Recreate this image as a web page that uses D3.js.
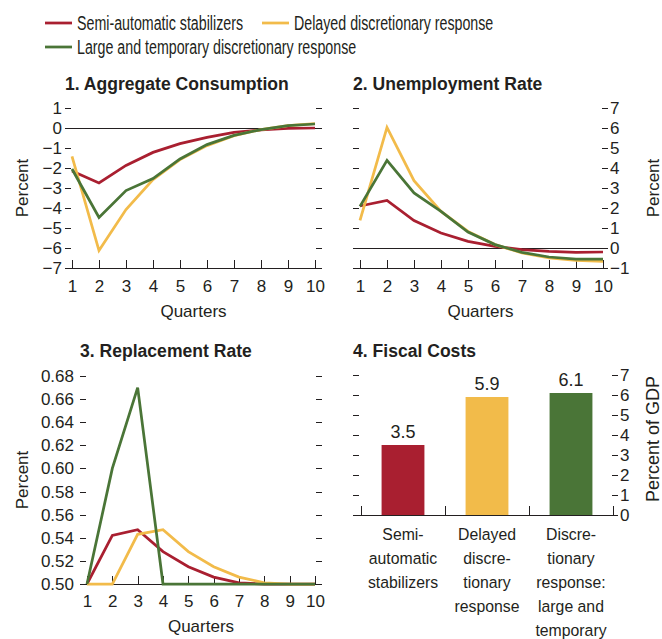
<!DOCTYPE html>
<html>
<head>
<meta charset="utf-8">
<script src="https://cdn.jsdelivr.net/npm/d3@7"></script>
<style>
body { margin: 0; background: #fff; }
svg text { font-family: "Liberation Sans", Arial, sans-serif; fill: #231f20; }
</style>
</head>
<body>
<svg id="chart" width="662" height="639"></svg>
<script>
//////////
// DATA //
//////////
var quarters = [1, 2, 3, 4, 5, 6, 7, 8, 9, 10];
var seriesNames = ["Semi-automatic stabilizers", "Delayed discretionary response", "Large and temporary discretionary response"];

var consSemi    = [-2.15, -2.75, -1.87, -1.22, -0.78, -0.47, -0.22, -0.1, -0.02, 0.0];
var consDelayed = [-1.42, -6.13, -4.08, -2.58, -1.58, -0.88, -0.38, -0.08, 0.12, 0.22];
var consLarge   = [-2.05, -4.47, -3.13, -2.53, -1.55, -0.83, -0.37, -0.08, 0.12, 0.2];

var unempSemi    = [2.1, 2.38, 1.37, 0.75, 0.33, 0.08, -0.08, -0.17, -0.22, -0.2];
var unempDelayed = [1.38, 6.03, 3.37, 1.83, 0.83, 0.17, -0.25, -0.5, -0.62, -0.67];
var unempLarge   = [2.08, 4.38, 2.75, 1.83, 0.8, 0.17, -0.22, -0.45, -0.55, -0.55];

var replSemi    = [0.5, 0.542, 0.547, 0.528, 0.515, 0.506, 0.501, 0.5, 0.5, 0.5];
var replDelayed = [0.5, 0.5, 0.543, 0.547, 0.528, 0.515, 0.506, 0.501, 0.5, 0.5];
var replLarge   = [0.5, 0.6, 0.67, 0.5, 0.5, 0.5, 0.5, 0.5, 0.5, 0.5];

var costCategories = [
	["Semi-", "automatic", "stabilizers"],
	["Delayed", "discre-", "tionary", "response"],
	["Discre-", "tionary", "response:", "large and", "temporary"]
];
var costValues = [3.5, 5.9, 6.1];

var consTicks = [1, 0, -1, -2, -3, -4, -5, -6, -7];
var unempTicks = [7, 6, 5, 4, 3, 2, 1, 0, -1];
var replTicks = [0.50, 0.52, 0.54, 0.56, 0.58, 0.60, 0.62, 0.64, 0.66, 0.68];
var costTicks = [0, 1, 2, 3, 4, 5, 6, 7];

/////////////////
// "CONSTANTS" //
/////////////////
var COLORS = ["#a91f30", "#f2bb4a", "#4a7537"];
var INK = "#231f20";
var LINE_WIDTH = 2.75;
var TICK_LEN = 6;
var X_TICK_LEN = 8;
var FONT_TICK = 17;
var FONT_TITLE = 18.5;

var svg = d3.select("#chart");

///////////////
// FUNCTIONS //
///////////////
// narrow text: the source font is condensed, ours is not
var squeezed = function(parent, x, y, k, extra) {
	return parent.append("text")
		.attr("transform", "translate(" + x + "," + y + ")" + (extra || "") + " scale(" + k + ",1)");
};

var styleAxis = function(g) {
	g.attr("font-family", null).attr("font-size", null);
	g.select(".domain").remove();
	g.selectAll(".tick line").attr("stroke", INK).attr("stroke-width", 1).attr("shape-rendering", "crispEdges");
	g.selectAll(".tick text").style("font-size", FONT_TICK + "px");
};

var hLine = function(g, x1, x2, y) {
	g.append("line")
		.attr("x1", x1).attr("x2", x2)
		.attr("y1", y).attr("y2", y)
		.attr("stroke", INK).attr("stroke-width", 1)
		.attr("shape-rendering", "crispEdges");
};

var drawLinePanel = function(p) {
	var g = svg.append("g");
	var x = d3.scaleLinear().domain([1, 10]).range([p.dataLeft, p.dataRight]);
	var y = d3.scaleLinear().domain(p.yDomain).range(p.yRange);
	var base = y(p.yDomain[0]);

	g.append("g")
		.attr("transform", "translate(" + (p.left + TICK_LEN) + ",0)")
		.call(d3.axisLeft(y).tickValues(p.ticks).tickSize(TICK_LEN).tickPadding(p.leftPad)
			.tickFormat(p.labelSide == "left" ? p.format : ""))
		.call(styleAxis);
	g.append("g")
		.attr("transform", "translate(" + (p.right - TICK_LEN) + ",0)")
		.call(d3.axisRight(y).tickValues(p.ticks).tickSize(TICK_LEN).tickPadding(2)
			.tickFormat(p.labelSide == "right" ? p.format : ""))
		.call(styleAxis);

	if (p.zero) hLine(g, p.left, p.right, y(0));
	hLine(g, p.left, p.right, base);
	g.append("g")
		.attr("transform", "translate(0," + base + ")")
		.call(d3.axisBottom(x).tickValues(quarters).tickSize(-X_TICK_LEN).tickPadding(p.xPad))
		.call(styleAxis);

	var line = d3.line()
		.x(function(d, i) { return x(quarters[i]); })
		.y(function(d) { return y(d); });
	p.series.forEach(function(s, i) {
		g.append("path")
			.attr("d", line(s))
			.attr("fill", "none")
			.attr("stroke", COLORS[i])
			.attr("stroke-width", LINE_WIDTH);
	});

	squeezed(g, p.left, p.titleY, 0.95)
		.style("font-size", FONT_TITLE + "px").style("font-weight", "bold")
		.text(p.title);
	g.append("text")
		.attr("x", (p.left + p.right) / 2).attr("y", p.xLabelY)
		.attr("text-anchor", "middle")
		.style("font-size", FONT_TICK + "px")
		.text("Quarters");
	g.append("text")
		.attr("transform", "translate(" + p.yLabelX + "," + (p.yRange[0] + p.yRange[1]) / 2 + ") rotate(-90)")
		.attr("text-anchor", "middle")
		.style("font-size", FONT_TICK + "px")
		.text(p.yLabel);
};

var drawBarPanel = function() {
	var g = svg.append("g");
	var left = 353, right = 618;
	var x = d3.scaleBand().domain(d3.range(costValues.length)).range([361, 613])
		.paddingInner(0.49).paddingOuter(0.245);
	var y = d3.scaleLinear().domain([0, 7]).range([515, 375]);

	g.append("g")
		.attr("transform", "translate(" + (left + TICK_LEN) + ",0)")
		.call(d3.axisLeft(y).tickValues(costTicks).tickSize(TICK_LEN).tickFormat(""))
		.call(styleAxis);
	g.append("g")
		.attr("transform", "translate(" + (right - TICK_LEN) + ",0)")
		.call(d3.axisRight(y).tickValues(costTicks).tickSize(TICK_LEN).tickPadding(2).tickFormat(d3.format("d")))
		.call(styleAxis);

	g.selectAll("rect.bar").data(costValues).enter().append("rect")
		.attr("class", "bar")
		.attr("x", function(d, i) { return x(i); })
		.attr("width", x.bandwidth())
		.attr("y", function(d) { return y(d); })
		.attr("height", function(d) { return y(0) - y(d); })
		.attr("fill", function(d, i) { return COLORS[i]; });

	g.selectAll("text.val").data(costValues).enter().append("text")
		.attr("class", "val")
		.attr("x", function(d, i) { return x(i) + x.bandwidth() / 2; })
		.attr("y", function(d) { return y(d) - 7; })
		.attr("text-anchor", "middle")
		.style("font-size", "18px")
		.text(function(d) { return d.toFixed(1); });

	hLine(g, left, right, y(0));
	// category separators
	d3.range(costValues.length + 1).forEach(function(i) {
		var bx = x.range()[0] + i * x.step();
		g.append("line")
			.attr("x1", bx).attr("x2", bx)
			.attr("y1", y(0)).attr("y2", y(0) - 9)
			.attr("stroke", INK).attr("stroke-width", 1)
			.attr("shape-rendering", "crispEdges");
	});

	costCategories.forEach(function(lines, i) {
		lines.forEach(function(l, j) {
			squeezed(g, x(i) + x.bandwidth() / 2, 540 + j * 24, 0.93)
				.attr("text-anchor", "middle")
				.style("font-size", FONT_TICK + "px")
				.text(l);
		});
	});

	squeezed(g, left, 357, 0.95)
		.style("font-size", FONT_TITLE + "px").style("font-weight", "bold")
		.text("4. Fiscal Costs");
	g.append("text")
		.attr("transform", "translate(659,439) rotate(-90)")
		.attr("text-anchor", "middle")
		.style("font-size", "18px")
		.text("Percent of GDP");
};

var drawLegend = function() {
	var items = [
		{ x: 45, y: 23 }, { x: 262, y: 23 }, { x: 45, y: 47 }
	];
	seriesNames.forEach(function(name, i) {
		var g = svg.append("g").attr("transform", "translate(" + items[i].x + "," + items[i].y + ")");
		g.append("line").attr("x1", 0).attr("x2", 27)
			.attr("stroke", COLORS[i]).attr("stroke-width", LINE_WIDTH);
		squeezed(g, 32, 7, 0.73)
			.style("font-size", "19.5px")
			.text(name);
	});
};

//////////
// FLOW //
//////////
drawLegend();
drawLinePanel({
	title: "1. Aggregate Consumption", titleY: 90,
	left: 65, right: 322, dataLeft: 72, dataRight: 315,
	yDomain: [-7, 1], yRange: [268, 108], ticks: consTicks,
	labelSide: "left", leftPad: 3, format: d3.format("d"),
	zero: true, xPad: 12, xLabelY: 317,
	yLabel: "Percent", yLabelX: 28,
	series: [consSemi, consDelayed, consLarge]
});
drawLinePanel({
	title: "2. Unemployment Rate", titleY: 90,
	left: 353, right: 608, dataLeft: 360, dataRight: 603,
	yDomain: [-1, 7], yRange: [268, 108], ticks: unempTicks,
	labelSide: "right", leftPad: 3, format: d3.format("d"),
	zero: true, xPad: 12, xLabelY: 317,
	yLabel: "Percent", yLabelX: 659,
	series: [unempSemi, unempDelayed, unempLarge]
});
drawLinePanel({
	title: "3. Replacement Rate", titleY: 357,
	left: 80, right: 322, dataLeft: 87, dataRight: 315,
	yDomain: [0.5, 0.68], yRange: [584, 376], ticks: replTicks,
	labelSide: "left", leftPad: 6, format: d3.format(".2f"),
	zero: false, xPad: 11, xLabelY: 632,
	yLabel: "Percent", yLabelX: 28,
	series: [replSemi, replDelayed, replLarge]
});
drawBarPanel();
</script>
</body>
</html>
